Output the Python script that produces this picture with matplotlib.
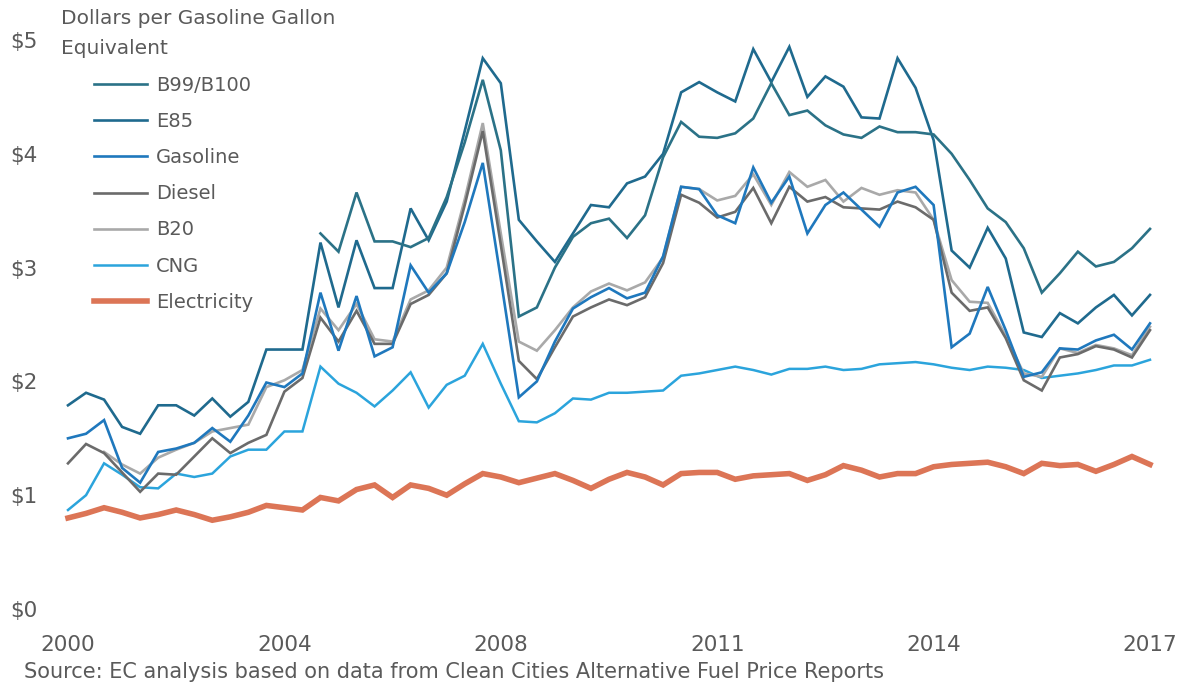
import numpy as np
import matplotlib.pyplot as plt

plt.rcParams['font.family'] = ['DejaVu Sans']

nan = np.nan

years = ['2000', '2004', '2008', '2011', '2014', '2017']
year_idx = [0, 12, 24, 36, 48, 60]

b99 = [nan] * 14 + [
    3.30, 3.14, 3.66, 3.23, 3.23, 3.18,
    3.26, 3.62, 4.10, 4.65, 4.03, 2.57, 2.65, 3.00, 3.27, 3.39,
    3.43, 3.26, 3.46, 3.97, 4.28, 4.15, 4.14, 4.18, 4.31, 4.62,
    4.34, 4.38, 4.25, 4.17, 4.14, 4.24, 4.19, 4.19, 4.17, 4.00,
    3.77, 3.52, 3.40, 3.17, 2.78, 2.95, 3.14, 3.01, 3.05, 3.17,
    3.34]
e85 = [1.79, 1.90, 1.84, 1.60, 1.54, 1.79, 1.79, 1.70, 1.85, 1.69,
       1.82, 2.28, 2.28, 2.28, 3.22, 2.65, 3.24, 2.82, 2.82, 3.52,
       3.24, 3.58, 4.20, 4.84, 4.62, 3.42, 3.23, 3.05, 3.30, 3.55,
       3.53, 3.74, 3.80, 4.00, 4.54, 4.63, 4.54, 4.46, 4.92, 4.63,
       4.94, 4.50, 4.68, 4.59, 4.32, 4.31, 4.84, 4.58, 4.12, 3.15,
       3.00, 3.35, 3.08, 2.43, 2.39, 2.60, 2.51, 2.65, 2.76, 2.58,
       2.76]
gasoline = [1.50, 1.54, 1.66, 1.24, 1.11, 1.38, 1.41, 1.46, 1.59, 1.47,
            1.70, 1.99, 1.95, 2.07, 2.78, 2.27, 2.75, 2.22, 2.30, 3.02,
            2.78, 2.95, 3.40, 3.92, 2.90, 1.86, 2.00, 2.35, 2.64, 2.74,
            2.82, 2.73, 2.78, 3.10, 3.71, 3.69, 3.46, 3.39, 3.88, 3.57,
            3.80, 3.30, 3.55, 3.66, 3.51, 3.36, 3.66, 3.71, 3.55, 2.30,
            2.42, 2.83, 2.45, 2.04, 2.08, 2.29, 2.28, 2.36, 2.41, 2.28,
            2.51]
diesel = [1.28, 1.45, 1.37, 1.20, 1.03, 1.19, 1.18, 1.34, 1.50, 1.37,
          1.46, 1.53, 1.91, 2.03, 2.56, 2.35, 2.62, 2.33, 2.33, 2.68,
          2.76, 2.95, 3.55, 4.20, 3.20, 2.18, 2.02, 2.30, 2.57, 2.65,
          2.72, 2.67, 2.74, 3.04, 3.64, 3.57, 3.44, 3.49, 3.70, 3.39,
          3.71, 3.58, 3.62, 3.53, 3.52, 3.51, 3.58, 3.53, 3.42, 2.78,
          2.62, 2.65, 2.38, 2.01, 1.92, 2.21, 2.24, 2.31, 2.28, 2.21,
          2.45]
b20 = [nan, nan, 1.38, 1.27, 1.19, 1.33, 1.40, 1.46, 1.56, 1.59,
       1.62, 1.95, 2.01, 2.10, 2.64, 2.45, 2.68, 2.37, 2.35, 2.72,
       2.80, 3.00, 3.60, 4.27, 3.30, 2.35, 2.27, 2.45, 2.65, 2.79,
       2.86, 2.80, 2.87, 3.09, 3.71, 3.69, 3.59, 3.63, 3.82, 3.55,
       3.84, 3.71, 3.77, 3.58, 3.70, 3.64, 3.68, 3.66, 3.42, 2.89,
       2.70, 2.69, 2.40, 2.07, 2.04, 2.29, 2.25, 2.32, 2.29, 2.23,
       2.48]
cng = [0.87, 1.00, 1.28, 1.18, 1.07, 1.06, 1.19, 1.16, 1.19, 1.34,
       1.40, 1.40, 1.56, 1.56, 2.13, 1.98, 1.90, 1.78, 1.92, 2.08,
       1.77, 1.97, 2.05, 2.33, 1.98, 1.65, 1.64, 1.72, 1.85, 1.84,
       1.90, 1.90, 1.91, 1.92, 2.05, 2.07, 2.10, 2.13, 2.10, 2.06,
       2.11, 2.11, 2.13, 2.10, 2.11, 2.15, 2.16, 2.17, 2.15, 2.12,
       2.10, 2.13, 2.12, 2.10, 2.03, 2.05, 2.07, 2.10, 2.14, 2.14,
       2.19]
electricity = [0.80, 0.84, 0.89, 0.85, 0.80, 0.83, 0.87, 0.83, 0.78, 0.81,
               0.85, 0.91, 0.89, 0.87, 0.98, 0.95, 1.05, 1.09, 0.98, 1.09,
               1.06, 1.00, 1.10, 1.19, 1.16, 1.11, 1.15, 1.19, 1.13, 1.06,
               1.14, 1.20, 1.16, 1.09, 1.19, 1.20, 1.20, 1.14, 1.17, 1.18,
               1.19, 1.13, 1.18, 1.26, 1.22, 1.16, 1.19, 1.19, 1.25, 1.27,
               1.28, 1.29, 1.25, 1.19, 1.28, 1.26, 1.27, 1.21, 1.27, 1.34,
               1.27]

x = np.arange(len(e85))

series = [
    ('B99/B100', b99, '#2b7287', 1.9),
    ('E85', e85, '#1f6a8e', 1.9),
    ('Gasoline', gasoline, '#1f78bd', 1.9),
    ('Diesel', diesel, '#6b6b6b', 1.9),
    ('B20', b20, '#a9a9a9', 1.9),
    ('CNG', cng, '#2ba4dc', 1.8),
    ('Electricity', electricity, '#dc7556', 4.0),
]

fig = plt.figure(figsize=(11.77, 6.85), dpi=100)
ax = fig.add_axes([68 / 1177, 1 - 609 / 685, (1150 - 68) / 1177, (609 - 40) / 685])

handles = []
for name, vals, color, lw in reversed(series):
    h, = ax.plot(x, np.array(vals, dtype=float), color=color, lw=lw,
                 solid_joinstyle='miter', clip_on=False, label=name)
    handles.append(h)
handles = handles[::-1]

ax.set_xlim(0, 60)
ax.set_ylim(0, 5)
for s in ax.spines.values():
    s.set_visible(False)

txt = '#5a5a5a'
ax.set_yticks([0, 1, 2, 3, 4, 5])
ax.set_yticklabels(['$0', '$1', '$2', '$3', '$4', '$5'])
ax.set_xticks(year_idx)
ax.set_xticklabels(years)
ax.tick_params(axis='y', length=0, pad=41.5, labelsize=15.5, labelcolor=txt)
ax.tick_params(axis='x', length=0, pad=19, labelsize=15.5, labelcolor=txt)
for lab in ax.get_yticklabels():
    lab.set_horizontalalignment('left')

fig.text(61 / 1177, 1 - 9 / 685, 'Dollars per Gasoline Gallon\nEquivalent',
         ha='left', va='top', fontsize=14.5, color=txt, linespacing=1.72)

leg = ax.legend(handles, [s[0] for s in series], loc='upper left',
                bbox_to_anchor=(94 / 1177, 1 - 76 / 685),
                bbox_transform=fig.transFigure, frameon=False,
                fontsize=14, handlelength=2.75, handletextpad=0.45,
                labelspacing=0.88, borderpad=0, borderaxespad=0)
for t in leg.get_texts():
    t.set_color(txt)

fig.text(24 / 1177, 1 - 672 / 685,
         'Source: EC analysis based on data from Clean Cities Alternative Fuel Price Reports',
         ha='left', va='center', fontsize=15, color=txt)

fig.savefig('out.png', dpi=100)
